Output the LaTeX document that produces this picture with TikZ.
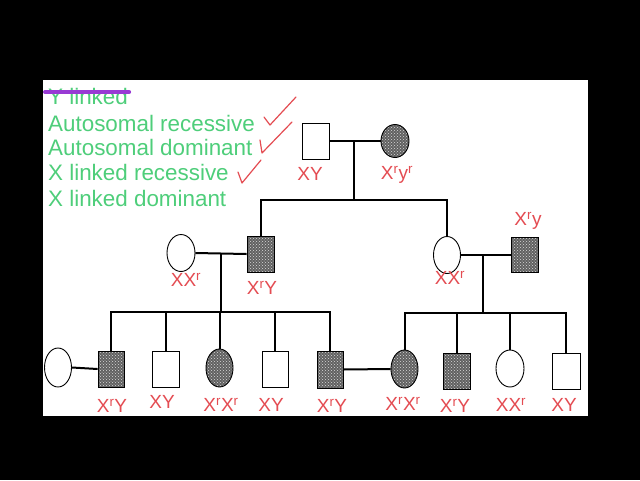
\documentclass[tikz,border=0pt]{standalone}
\usepackage{fontspec}
\setmainfont{Liberation Sans}
\usepackage{xcolor}
\usetikzlibrary{shapes.geometric,patterns}
\definecolor{listgreen}{RGB}{78, 206, 122}
\definecolor{handred}{RGB}{228, 76, 82}
\definecolor{strikepurple}{RGB}{152, 58, 212}
\newcommand{\Xr}{X\textsuperscript{r}}

\begin{document}
\begin{tikzpicture}[
  x=1pt, y=-1pt,
  male/.style={rectangle, draw, line width=0.9pt, minimum width=27pt, minimum height=36pt, inner sep=0pt},
  female/.style={ellipse, draw, line width=0.9pt, minimum width=28pt, minimum height=37pt, inner sep=0pt},
  affected/.style={preaction={fill=black!62}, pattern=crosshatch dots, pattern color=white!85!black},
  line/.style={line width=2pt},
  gene/.style={text=handred, font=\fontsize{19}{20}\selectfont, inner sep=0pt},
  choice/.style={text=listgreen, font=\fontsize{22.4}{25}\selectfont, anchor=base west, inner sep=0pt},
  tick/.style={handred, line width=1.2pt, line cap=round, line join=round}
]
  % screen and slide
  \fill[black] (0,0) rectangle (640,480);
  \fill[white] (43,80) rectangle (588,416);

  % modes of inheritance
  \node[choice] (ylinked) at (48,104) {Y linked};
  \node[choice] (autorec) at (48,131) {Autosomal recessive};
  \node[choice] (autodom) at (48,155) {Autosomal dominant};
  \node[choice] (xrec) at (48,180) {X linked recessive};
  \node[choice] (xdom) at (48,206) {X linked dominant};
  \draw[strikepurple, line width=4pt, line cap=round]
    ([xshift=-3pt, yshift=4pt]ylinked.west) -- ([xshift=1pt, yshift=4pt]ylinked.east);
  \draw[tick] (264,117) -- (270,125) -- (296,97);
  \draw[tick] (260,140) -- (262,153) -- (292,122);
  \draw[tick] (238,172) -- (242,183) -- (261,160);

  % generation I
  \node[male] (grandpa) at (316,141) {};
  \node[female, affected, minimum height=33pt] (grandma) at (395,141) {};
  % generation II
  \node[female] (wife) at (181,253) {};
  \node[male, affected] (son) at (260.5,254) {};
  \node[female, minimum width=27pt] (daughter) at (447,255) {};
  \node[male, affected, minimum height=35pt] (husband) at (525,255) {};
  % generation III
  \node[female, minimum width=27pt, minimum height=39pt] (spouse) at (58,367.5) {};
  \node[male, affected, minimum width=26pt] (kid1) at (111,369) {};
  \node[male] (kid2) at (165.5,369) {};
  \node[female, affected, minimum width=27pt, minimum height=38pt] (kid3) at (219.5,368) {};
  \node[male, minimum width=26pt] (kid4) at (275,369) {};
  \node[male, affected, minimum width=26pt, minimum height=37pt] (kid5) at (330,369.5) {};
  \node[female, affected, minimum width=27pt, minimum height=38pt] (kid6) at (404.5,369) {};
  \node[male, affected] (kid7) at (456.5,371) {};
  \node[female] (kid8) at (510,368.5) {};
  \node[male, minimum width=28pt] (kid9) at (566,371) {};

  % lines of descent
  \coordinate (sibI) at (354,200);
  \coordinate (sibL) at (221,312);
  \coordinate (sibR) at (483,313);
  \draw[line] (grandpa.east) -- (grandma.west);
  \draw[line] (sibI |- grandpa.east) -- (sibI);
  \draw[line] (son.north) |- (sibI) -| (daughter.north);
  \draw[line] (wife.east) -- (son.west);
  \draw[line] (sibL |- wife.east) -- (sibL);
  \draw[line] (kid1.north) |- (sibL) -| (kid5.north);
  \draw[line] (kid2.north) -- (kid2.north |- sibL);
  \draw[line] (kid3.north) -- (kid3.north |- sibL);
  \draw[line] (kid4.north) -- (kid4.north |- sibL);
  \draw[line] (daughter.east) -- (husband.west);
  \draw[line] (sibR |- daughter.east) -- (sibR);
  \draw[line] (kid6.north) |- (sibR) -| (kid9.north);
  \draw[line] (kid7.north) -- (kid7.north |- sibR);
  \draw[line] (kid8.north) -- (kid8.north |- sibR);
  \draw[line] (spouse.east) -- (kid1.west);
  \draw[line] (kid5.east) -- (kid6.west);

  % genotypes
  \node[gene] (g-grandpa) at (310,174) {XY};
  \node[gene] (g-grandma) at (397,175) {\Xr y\textsuperscript{r}};
  \node[gene] (g-wife) at (186,280) {X\Xr};
  \node[gene] (g-son) at (262,288) {\Xr Y};
  \node[gene] (g-daughter) at (450,278) {X\Xr};
  \node[gene] (g-husband) at (528,221) {\Xr y};
  \node[gene] (g-kid1) at (112,406) {\Xr Y};
  \node[gene] (g-kid2) at (162,402) {XY};
  \node[gene] (g-kid3) at (221,405) {\Xr\Xr};
  \node[gene] (g-kid4) at (271,405) {XY};
  \node[gene] (g-kid5) at (332,406) {\Xr Y};
  \node[gene] (g-kid6) at (403,404) {\Xr\Xr};
  \node[gene] (g-kid7) at (455,406) {\Xr Y};
  \node[gene] (g-kid8) at (511,405) {X\Xr};
  \node[gene] (g-kid9) at (564,405) {XY};
\end{tikzpicture}
\end{document}
